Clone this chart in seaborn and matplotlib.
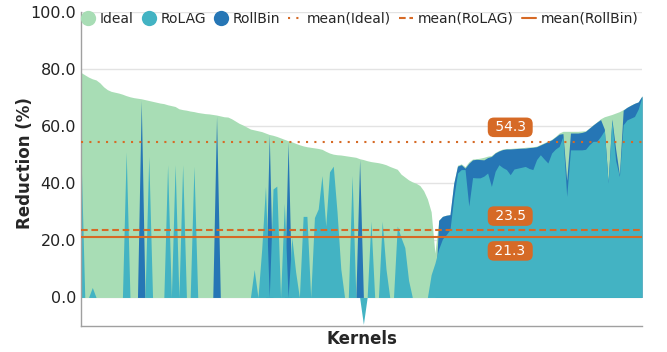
import numpy as np
import pandas as pd
import matplotlib
matplotlib.use("Agg")
import matplotlib.pyplot as plt
from matplotlib.lines import Line2D
import seaborn as sns

# ---------------- data ----------------
series_names = ["Ideal", "RoLAG", "RollBin"]
mean_names = ["mean(Ideal)", "mean(RoLAG)", "mean(RollBin)"]
mean_values = [54.3, 23.5, 21.3]

ideal = [
    78.8, 78.0, 77.2, 76.6, 76.2, 75.2, 73.8, 72.8, 72.2, 71.9,
    71.6, 71.2, 70.7, 70.3, 70.0, 69.8, 69.6, 69.3, 69.0, 68.7,
    68.4, 68.1, 67.9, 67.5, 67.2, 66.9, 66.1, 65.8, 65.6, 65.3,
    65.1, 64.8, 64.6, 64.4, 64.3, 64.1, 63.9, 63.6, 63.3, 63.2,
    62.6, 61.8, 61.0, 60.4, 59.7, 59.0, 58.7, 58.4, 58.1, 57.6,
    57.1, 56.8, 56.4, 55.9, 55.4, 54.9, 54.5, 54.0, 53.5, 53.1,
    52.8, 52.6, 52.4, 52.2, 51.9, 51.2, 50.6, 50.2, 50.0, 49.9,
    49.7, 49.5, 49.3, 49.1, 48.6, 48.3, 47.9, 47.6, 47.4, 47.2,
    46.9, 46.5, 45.9, 45.4, 44.9, 43.2, 42.2, 41.2, 40.5, 40.0,
    39.2, 37.4, 34.5, 30.0, 15.5, 27.0, 28.4, 28.8, 29.0, 40.0,
    46.3, 46.8, 45.8, 47.5, 48.5, 48.6, 48.8, 49.1, 49.5, 49.7,
    50.8, 51.5, 52.0, 52.2, 52.2, 52.3, 52.4, 52.4, 52.6, 52.7,
    52.8, 53.0, 53.6, 54.2, 54.8, 55.4, 56.4, 57.6, 58.2, 58.2,
    58.2, 58.2, 58.2, 58.3, 58.4, 59.4, 60.5, 61.5, 62.6, 63.3,
    63.7, 64.1, 64.6, 65.1, 65.8, 66.6, 67.4, 68.0, 68.5, 70.6,
]

rolag = [
    50.0, 0.0, 0.0, 3.5, 0.0, 0.0, 0.0, 0.0, 0.0, 0.0,
    0.0, 0.0, 51.0, 0.0, 0.0, 0.0, 0.0, 0.0, 49.4, 0.0,
    0.0, 0.0, 0.0, 46.5, 0.0, 46.5, 0.0, 46.5, 0.0, 0.0,
    46.0, 0.0, 0.0, 0.0, 0.0, 0.0, 0.0, 0.0, 0.0, 0.0,
    0.0, 0.0, 0.0, 0.0, 0.0, 0.0, 9.8, 0.0, 17.0, 38.9,
    0.0, 38.0, 39.0, 0.0, 33.0, 0.0, 21.0, 9.0, 0.0, 28.4,
    28.4, 0.0, 28.0, 31.0, 42.7, 25.0, 44.0, 46.0, 30.0, 10.0,
    0.0, 0.0, 42.7, 0.0, 0.0, -9.4, 0.0, 26.7, 0.0, 0.0,
    26.7, 10.0, 0.0, 0.0, 25.0, 21.0, 17.5, 6.0, 0.0, 0.0,
    0.0, 0.0, 0.0, 8.0, 12.0, 17.0, 20.5, 22.0, 23.8, 35.0,
    43.6, 44.8, 44.8, 32.0, 42.0, 41.9, 41.9, 42.5, 43.6, 38.9,
    44.2, 46.5, 45.5, 44.8, 43.0, 45.0, 45.3, 45.6, 45.9, 45.2,
    44.8, 48.3, 50.0, 48.5, 47.1, 50.6, 52.0, 52.9, 56.4, 35.4,
    51.7, 51.7, 51.7, 51.7, 51.9, 53.5, 54.7, 54.7, 56.4, 58.5,
    40.1, 62.0, 48.0, 42.4, 60.5, 62.2, 62.8, 63.4, 66.0, 70.4,
]

rollbin = [
    0.0, 0.0, 0.0, 0.0, 0.0, 0.0, 0.0, 0.0, 0.0, 0.0,
    0.0, 0.0, 0.0, 0.0, 0.0, 0.0, 69.0, 0.0, 0.0, 0.0,
    0.0, 0.0, 0.0, 0.0, 0.0, 0.0, 0.0, 0.0, 0.0, 0.0,
    0.0, 0.0, 0.0, 0.0, 0.0, 0.0, 63.6, 0.0, 0.0, 0.0,
    0.0, 0.0, 0.0, 0.0, 0.0, 0.0, 0.0, 0.0, 0.0, 0.0,
    57.0, 0.0, 0.0, 0.0, 0.0, 54.5, 0.0, 0.0, 0.0, 0.0,
    0.0, 0.0, 0.0, 0.0, 0.0, 0.0, 0.0, 0.0, 0.0, 0.0,
    0.0, 0.0, 0.0, 0.0, 48.3, 0.0, 0.0, 0.0, 0.0, 0.0,
    0.0, 0.0, 0.0, 0.0, 0.0, 0.0, 0.0, 0.0, 0.0, 0.0,
    0.0, 0.0, 0.0, 0.0, 0.0, 27.0, 28.4, 28.8, 29.0, 40.0,
    46.0, 46.5, 45.3, 47.0, 48.2, 48.4, 48.3, 48.2, 49.0, 49.4,
    50.6, 51.3, 51.8, 52.0, 52.0, 52.1, 52.2, 52.3, 52.3, 52.5,
    52.6, 52.8, 53.4, 54.0, 54.6, 55.2, 56.2, 57.2, 57.4, 41.0,
    57.6, 57.6, 57.6, 57.8, 58.2, 59.3, 60.4, 61.4, 62.3, 59.0,
    40.5, 62.5, 52.0, 43.0, 65.6, 66.6, 67.3, 68.0, 68.5, 70.6,
]

y_ticks = [0, 20, 40, 60, 80, 100]

df = pd.DataFrame({"kernel": np.arange(len(ideal)),
                   "Ideal": ideal, "RoLAG": rolag, "RollBin": rollbin})

# ---------------- style ----------------
sns.set_theme(style="whitegrid")
plt.rcParams["font.family"] = ["DejaVu Sans"]

c_ideal = "#a8ddb5"
c_rolag = "#43b3c3"
c_rollbin = "#2676b5"
c_mean = "#d66a26"
colors = {"Ideal": c_ideal, "RoLAG": c_rolag, "RollBin": c_rollbin}

fig = plt.figure(figsize=(6.67, 3.52), dpi=100)
ax = fig.add_axes([81 / 667, 1 - 326 / 352, 561 / 667, 314 / 352])

# draw order: Ideal, RollBin, RoLAG (RoLAG on top)
for name in ["Ideal", "RollBin", "RoLAG"]:
    ax.fill_between(df["kernel"], 0, df[name], color=colors[name],
                    linewidth=0, zorder=2)

styles = [(0, (1, 3)), (0, (3.2, 1.8)), "-"]
for m, ls in zip(mean_values, styles):
    ax.axhline(m, color=c_mean, linestyle=ls, linewidth=1.5, zorder=3)

label_x = 114.0
offsets = [5.3, 5.0, -5.0]
for m, off in zip(mean_values, offsets):
    ax.text(label_x, m + off, f" {m:.1f} ", ha="center", va="center",
            color="white", fontsize=10, zorder=5,
            bbox=dict(boxstyle="round,pad=0.2,rounding_size=0.45",
                      fc=c_mean, ec="none"))

ax.set_xlim(0, len(ideal) - 1)
ax.set_ylim(-10, 100)
ax.set_yticks(y_ticks)
ax.set_yticklabels([f"{t:.1f}" for t in y_ticks])
ax.set_xticks([])
ax.tick_params(axis="y", length=0, pad=3.5, labelsize=11.5, colors="#222222")
ax.grid(axis="y", color="#e3e3e3", linewidth=1.0, zorder=0)
ax.grid(axis="x", visible=False)
ax.set_axisbelow(True)

for s in ["top", "right"]:
    ax.spines[s].set_visible(False)
for s in ["left", "bottom"]:
    ax.spines[s].set_color("#a0a0a0")
    ax.spines[s].set_linewidth(1.0)

ax.set_ylabel("Reduction (%)", fontsize=12, fontweight="bold", va="center")
ax.yaxis.set_label_coords(-0.0998, 0.52)
ax.set_xlabel("Kernels", fontsize=12, fontweight="bold", labelpad=3)

handles = [
    Line2D([], [], marker="o", linestyle="none", markersize=11,
           markerfacecolor=c_ideal, markeredgecolor="none"),
    Line2D([], [], marker="o", linestyle="none", markersize=11,
           markerfacecolor=c_rolag, markeredgecolor="none"),
    Line2D([], [], marker="o", linestyle="none", markersize=11,
           markerfacecolor=c_rollbin, markeredgecolor="none"),
]
for ls in styles:
    handles.append(Line2D([], [], color=c_mean, linestyle=ls, linewidth=1.5))
labels = series_names + mean_names
ax.legend(handles, labels, loc="center left", bbox_to_anchor=(0.0, 0.978),
          ncol=6, frameon=False, fontsize=10, handlelength=1.0,
          handletextpad=0.33, columnspacing=0.6, borderaxespad=0,
          borderpad=0)

fig.savefig("out.png", dpi=100)
